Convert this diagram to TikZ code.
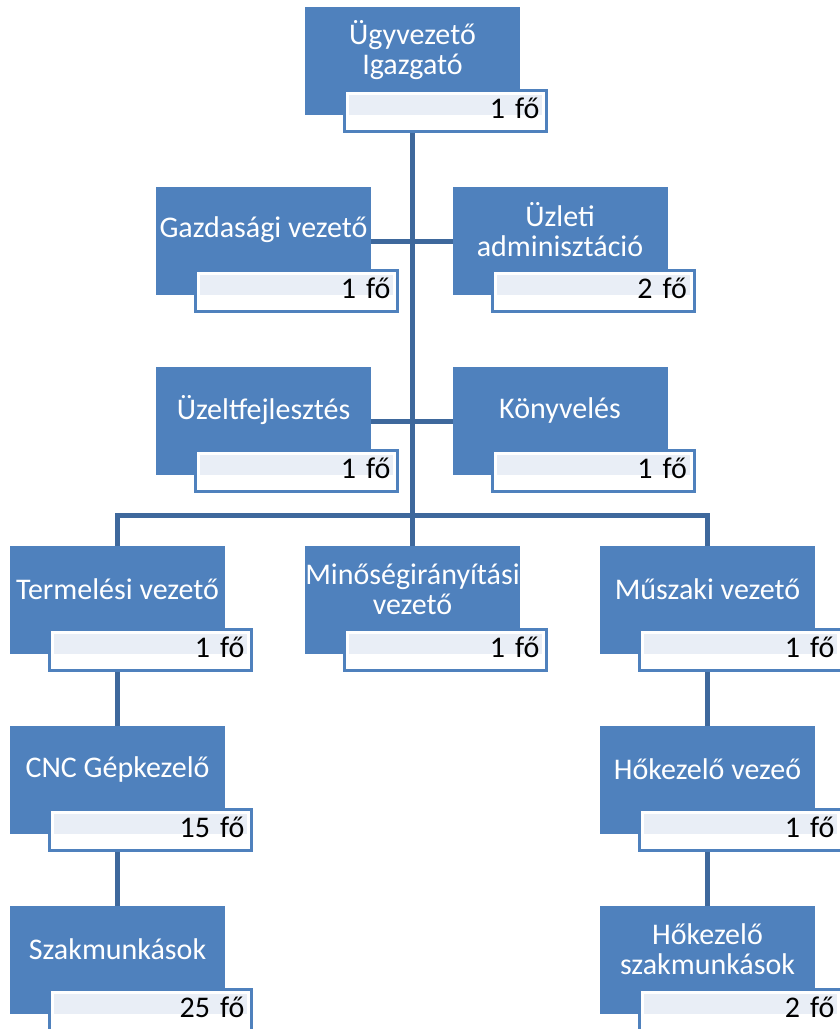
\documentclass[tikz,border=0pt]{standalone}
\usepackage{fontspec}
\setmainfont{Carlito}
\usetikzlibrary{positioning}
\usetikzlibrary{calc}
\usetikzlibrary{backgrounds}

\definecolor{boxblue}{RGB}{79,129,189}
\definecolor{linkblue}{RGB}{62,104,156}
\definecolor{subfill}{RGB}{233,238,246}
\newcommand{\orgfont}{\fontsize{30}{30}\selectfont}

\begin{document}
\begin{tikzpicture}[x=1pt, y=-1pt,
unit/.style={rectangle, fill=boxblue, minimum width=215pt, minimum height=108pt, outer sep=0pt},
unittext/.style={text=white, font=\orgfont, align=center, yshift=11pt},
countbox/.style={rectangle, minimum width=196pt, minimum height=35pt, inner xsep=4pt, inner ysep=0pt, outer sep=0pt,
  text width=188pt, align=right, text height=14pt, text depth=0pt, font=\orgfont,
  fill=white, draw=white, line width=3pt, preaction={draw=boxblue, line width=9pt},
  path picture={\fill[subfill] (path picture bounding box.north west) rectangle ($(path picture bounding box.south east)!0.4!(path picture bounding box.north east)$);}},
link/.style={draw=linkblue, line width=5pt},
]
\useasboundingbox (0,0) rectangle (839,1029);

% Management
\node[unit, label={[unittext]center:{Ügyvezető\\Igazgató}}]      (ceo)     at (412.5,61)  {};
\node[countbox, below left=-21.5pt and -23.5pt of ceo.south east] (ceocount) {1 fő};

% Staff units
\node[unit, label={[unittext]center:{Gazdasági vezető}}]          (econ)    at (263.5,241) {};
\node[countbox, below left=-21.5pt and -23.5pt of econ.south east] (econcount) {1 fő};
\node[unit, label={[unittext]center:{Üzleti\\adminisztáció}}]     (admin)   at (560,241)   {};
\node[countbox, below left=-21.5pt and -23.5pt of admin.south east] (admincount) {2 fő};
\node[unit, label={[unittext]center:{Üzeltfejlesztés}}]           (dev)     at (263.5,421) {};
\node[countbox, below left=-21.5pt and -23.5pt of dev.south east] (devcount) {1 fő};
\node[unit, label={[unittext]center:{Könyvelés}}]                 (acct)    at (560,421)   {};
\node[countbox, below left=-21.5pt and -23.5pt of acct.south east] (acctcount) {1 fő};

% Line units
\node[unit, label={[unittext]center:{Termelési vezető}}]          (prod)    at (117.5,600) {};
\node[countbox, below left=-21.5pt and -23.5pt of prod.south east] (prodcount) {1 fő};
\node[unit, label={[unittext]center:{Minőségirányítási\\vezető}}] (quality) at (412.5,600) {};
\node[countbox, below left=-21.5pt and -23.5pt of quality.south east] (qualitycount) {1 fő};
\node[unit, label={[unittext]center:{Műszaki vezető}}]            (tech)    at (707.5,600) {};
\node[countbox, below left=-21.5pt and -23.5pt of tech.south east] (techcount) {1 fő};

% Workers
\node[unit, label={[unittext]center:{CNC Gépkezelő}}]             (cnc)     at (117.5,780) {};
\node[countbox, below left=-21.5pt and -23.5pt of cnc.south east] (cnccount) {15 fő};
\node[unit, label={[unittext]center:{Hőkezelő vezeő}}]            (heat)    at (707.5,780) {};
\node[countbox, below left=-21.5pt and -23.5pt of heat.south east] (heatcount) {1 fő};
\node[unit, label={[unittext]center:{Szakmunkások}}]              (skilled) at (117.5,960) {};
\node[countbox, below left=-21.5pt and -23.5pt of skilled.south east] (skilledcount) {25 fő};
\node[unit, label={[unittext]center:{Hőkezelő\\szakmunkások}}]    (heatskilled) at (707.5,960) {};
\node[countbox, below left=-21.5pt and -23.5pt of heatskilled.south east] (heatskilledcount) {2 fő};

% Connectors behind the boxes
\coordinate (bar) at (412.5,515.5);
\begin{scope}[on background layer]
\draw[link] (ceo) -- (quality);
\draw[link] (econ) -- (admin);
\draw[link] (dev) -- (acct);
\draw[link] (prod) |- (bar) -| (tech);
\draw[link] (prod) -- (cnc);
\draw[link] (cnc) -- (skilled);
\draw[link] (tech) -- (heat);
\draw[link] (heat) -- (heatskilled);
\end{scope}
\end{tikzpicture}
\end{document}
